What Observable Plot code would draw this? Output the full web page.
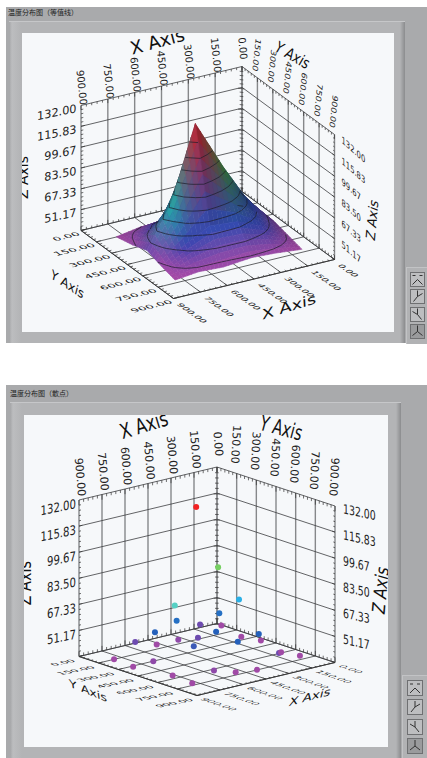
<!DOCTYPE html>
<html><head><meta charset="utf-8">
<script src="https://cdn.jsdelivr.net/npm/d3@7"></script>
<script src="https://cdn.jsdelivr.net/npm/@observablehq/plot@0.6"></script>
<style>
html,body{margin:0;padding:0;background:#fff}
#page{position:relative;width:427px;height:758px;overflow:hidden;background:#fff}
.box{position:absolute}
.grey{background:#a9aaac}
.raised{background:linear-gradient(90deg,#a5a6a8 0,#bcbdbf 3px,#b3b4b6 12px,#b3b4b6 calc(100% - 5px),#8b8c8e 100%);border-top:1px solid #c6c7c9}
.tools{background:#b1b2b4;border-top:1px solid #c2c3c5;border-left:1px solid #c2c3c5}
.plotbox{background:#f6f8fa;overflow:hidden}
.plotbox svg{display:block;background:transparent;overflow:hidden}
.title{position:absolute;font:7px "Noto Sans CJK SC","Noto Sans",sans-serif;color:#222;white-space:nowrap;line-height:9px}
.btn{position:absolute;box-sizing:border-box;border:1px solid #6f7072;background:#bdbec0}
.btn.on{background:#9a9b9d}
.btn svg{position:absolute;left:0;top:0}
</style></head><body><div id="page"></div>
<script>
// ---------- chart values ----------
const xTicks = [0,150,300,450,600,750,900];
const yTicks = [0,150,300,450,600,750,900];
const zTicks = [35,51.17,67.33,83.5,99.67,115.83,132];
const xyLabels = ["0.00","150.00","300.00","450.00","600.00","750.00","900.00"];
const zLabels = ["51.17","67.33","83.50","99.67","115.83","132.00"];

const surfaceX = [80,225,360,517,655,788];
const surfaceY = [148,306,446,585,720];
const surfaceZ = [
  [36,38,39,38,38,35],
  [39,66,62,56,50,38],
  [41,62,92,131,73,42],
  [38,50,58,60,50,38],
  [35,37,38,36,37,35]
];

const dotX = [517,257,142,655,226,471,278,98,650,412,277,152,438,725,461,120,445,560,626,307,178,798,813,802,763,777,679,487,379,56];
const dotY = [446,309,334,444,282,243,196,148,287,475,643,363,367,224,244,475,679,195,555,832,697,148,311,452,554,720,771,712,748,698];
const dotZ = [131,84,62,73,54,54,46,40,52,52,52,40,46,46,42,40,52,40,50,46,40,35,35,42,35,35,42,35,35,35];

const colorZ = [35,40,46,52,62,73,84,131];
const colorV = ["#a04aa6","#a04aa6","#6d4bb0","#2460bb","#2ab0e6","#55d0c4","#76cf62","#f22222"];
const surfaceColorZ = [35,38,44,52,62,73,92,131];
const surfaceColorV = ["#a84aa8","#a04aa8","#5f40b0","#2f45b0","#2c4fb4","#20b0a8","#3f8f45","#c8202c"];
const contourLevels = [39,47,55,63,71,80,89,98,107,118];

const zColor = d3.scaleLinear().domain(colorZ).range(colorV).interpolate(d3.interpolateRgb);
const surfaceColor = d3.scaleLinear().domain(surfaceColorZ).range(surfaceColorV).interpolate(d3.interpolateRgb);
const zMin = 35, zSpan = 97, xySpan = 900;

function projector({B,L,R,H}){
  return (x,y,z)=>{
    const a=x/xySpan,b=y/xySpan,w=(z-zMin)/zSpan;
    return [B[0]+a*(L[0]-B[0])+b*(R[0]-B[0]), B[1]+a*(L[1]-B[1])+b*(R[1]-B[1])-w*H];
  };
}
function warp(m){
  return (index,scales,values,dims,ctx,next)=>{
    const g=next(index,scales,values,dims,ctx);
    if(m) d3.select(g).selectAll("text").attr("transform",function(){return (this.getAttribute("transform")||"")+` matrix(${m.join(",")},0,0)`;});
    return g;
  };
}
function segs(P,list,opt){
  return Plot.link(list,{x1:d=>P(...d[0])[0],y1:d=>P(...d[0])[1],x2:d=>P(...d[1])[0],y2:d=>P(...d[1])[1],...opt});
}
function surfaceMarks(P){
  const n=6, polys=[], lines=[];
  const nx=surfaceX.length, ny=surfaceY.length;
  const cells=[];
  for(let j=0;j<ny-1;j++)for(let i=0;i<nx-1;i++)cells.push([i,j]);
  cells.sort((p,q)=>(p[0]+p[1])-(q[0]+q[1]));
  const rgb=v=>d3.rgb(surfaceColor(v));
  let id=0;
  for(const [i,j] of cells){
    const z00=surfaceZ[j][i],z10=surfaceZ[j][i+1],z01=surfaceZ[j+1][i],z11=surfaceZ[j+1][i+1];
    const c00=rgb(z00),c10=rgb(z10),c01=rgb(z01),c11=rgb(z11);
    const at=(s,t)=>{
      const x=surfaceX[i]+s*(surfaceX[i+1]-surfaceX[i]), y=surfaceY[j]+t*(surfaceY[j+1]-surfaceY[j]);
      const z=(1-s)*(1-t)*z00+s*(1-t)*z10+(1-s)*t*z01+s*t*z11;
      return [x,y,z];
    };
    const mix=(s,t,k)=>(1-s)*(1-t)*c00[k]+s*(1-t)*c10[k]+(1-s)*t*c01[k]+s*t*c11[k];
    for(let u=0;u<n;u++)for(let v=0;v<n;v++){
      const s0=u/n,s1=(u+1)/n,t0=v/n,t1=(v+1)/n,sm=(s0+s1)/2,tm=(t0+t1)/2;
      const q=[at(s0,t0),at(s1,t0),at(s1,t1),at(s0,t1)];
      const dzx=(q[1][2]+q[2][2]-q[0][2]-q[3][2])/2/zSpan*0.72/((q[1][0]-q[0][0])/xySpan);
      const dzy=(q[2][2]+q[3][2]-q[0][2]-q[1][2])/2/zSpan*0.72/((q[3][1]-q[0][1])/xySpan);
      const len=Math.hypot(dzx,dzy,1);
      const lam=Math.abs((-dzx*0.55-dzy*0.55+0.63)/len);
      const shade=0.62+0.38*Math.min(1,lam*1.2);
      const col=`rgb(${mix(sm,tm,"r")*shade|0},${mix(sm,tm,"g")*shade|0},${mix(sm,tm,"b")*shade|0})`;
      id++;
      for(const p of q) polys.push({id,col,p});
    }
    const m=3;
    for(let u=0;u<m;u++)for(let v=0;v<m;v++){
      const q=[at(u/m,v/m),at((u+1)/m,v/m),at((u+1)/m,(v+1)/m),at(u/m,(v+1)/m)];
      const sc=q.map(p=>P(...p));
      let area=0;for(let k=0;k<4;k++){const A=sc[k],C=sc[(k+1)%4];area+=A[0]*C[1]-C[0]*A[1];}
      if(area>-4) continue;
      for(const lev of contourLevels){
        const pts=[];
        for(let k=0;k<4;k++){
          const A=q[k],C=q[(k+1)%4];
          if((A[2]-lev)*(C[2]-lev)<0){
            const r=(lev-A[2])/(C[2]-A[2]);
            pts.push([A[0]+r*(C[0]-A[0]),A[1]+r*(C[1]-A[1]),lev]);
          }
        }
        if(pts.length>=2) lines.push([pts[0],pts[1]]);
        if(pts.length===4) lines.push([pts[2],pts[3]]);
      }
    }
  }
  return [
    Plot.line(polys,{x:d=>P(...d.p)[0],y:d=>P(...d.p)[1],z:"id",fill:"col",stroke:"col",strokeWidth:0.6,curve:"linear-closed"}),
    segs(P,lines,{stroke:"#1c1c28",strokeWidth:0.7})
  ];
}
function chart(cfg){
  const P=projector(cfg);
  const top=132,fl=35,maxv=900;
  const gridV=[],gridD=[];
  for(const x of xTicks){gridV.push([[x,0,fl],[x,0,top]]);gridD.push([[x,0,fl],[x,maxv,fl]]);}
  for(const y of yTicks){gridV.push([[0,y,fl],[0,y,top]]);gridD.push([[0,y,fl],[maxv,y,fl]]);}
  for(const z of zTicks){gridD.push([[maxv,0,z],[0,0,z]]);gridD.push([[0,0,z],[0,maxv,z]]);}
  const ticks=[];
  const minor=d3.range(0,901,30);
  for(const v of minor){
    const maj=v%150===0, dz=maj?3.2:1.8, dv=maj?26:15;
    ticks.push([[v,0,top],[v,0,top-dz]],[[0,v,top],[0,v,top-dz]]);
    ticks.push([[v,0,fl],[v,0,fl+dz]],[[0,v,fl],[0,v,fl+dz]]);
    ticks.push([[maxv,v,fl],[maxv-dv,v,fl]],[[v,maxv,fl],[v,maxv-dv,fl]]);
  }
  for(let i=0;i<30;i++){
    const z=fl+i*(top-fl)/30, maj=i%5===0, dv=maj?22:13;
    ticks.push([[maxv,0,z],[maxv-dv,0,z]],[[0,maxv,z],[0,maxv-dv,z]],[[dv,0,z],[0,dv,z]]);
  }
  const edges=[[[maxv,0,fl],[maxv,maxv,fl]],[[maxv,maxv,fl],[0,maxv,fl]]];
  const T=cfg.text;
  const txt=(data,at,label,o)=>Plot.text(data,{
    x:d=>P(...at(d))[0],y:d=>P(...at(d))[1],text:label,fill:"#222",
    fontSize:o.fs,dx:o.dx,dy:o.dy,textAnchor:o.anchor||"middle",rotate:o.rotate||0,
    render:warp(o.m)}
  );
  const xIdx=d3.range(7), yTopIdx=d3.range(1,7), zIdx=d3.range(6);
  const title=(s,at,o)=>Plot.text([s],{x:()=>P(...at)[0],y:()=>P(...at)[1],text:d=>d,fill:"#111",fontSize:o.fs,dx:o.dx,dy:o.dy,rotate:o.rotate||0,render:warp(o.m)});
  const marks=[
    segs(P,gridV,{stroke:"#86888a",strokeWidth:cfg.gw}),
    segs(P,gridD,{stroke:"#3c3d40",strokeWidth:0.8}),
    segs(P,edges,{stroke:"#333",strokeWidth:0.9}),
    segs(P,ticks,{stroke:"#333",strokeWidth:0.7})
  ];
  if(cfg.surface) marks.push(...surfaceMarks(P));
  if(cfg.dots) marks.push(Plot.dot(dotX.map((x,i)=>({x,y:dotY[i],z:dotZ[i]})),{
    x:d=>P(d.x,d.y,d.z)[0],y:d=>P(d.x,d.y,d.z)[1],r:3,fill:d=>zColor(d.z),stroke:"none"}));
  marks.push(
    txt(xIdx,i=>[xTicks[i],0,top],i=>xyLabels[i],T.xTop),
    txt(yTopIdx,i=>[0,yTicks[i],top],i=>xyLabels[i],T.yTop),
    txt(zIdx,i=>[maxv,0,zTicks[i+1]],i=>zLabels[i],T.zLeft),
    txt(zIdx,i=>[0,maxv,zTicks[i+1]],i=>zLabels[i],T.zRight),
    txt(xIdx,i=>[maxv,yTicks[i],fl],i=>xyLabels[i],T.yBot),
    txt(xIdx,i=>[xTicks[i],maxv,fl],i=>xyLabels[i],T.xBot),
    title("X Axis",[450,0,top],T.tXTop),
    title("Y Axis",[0,450,top],T.tYTop),
    title("Z Axis",[maxv,0,83.5],T.tZLeft),
    title("Z Axis",[0,maxv,83.5],T.tZRight),
    title("Y Axis",[maxv,450,fl],T.tYBot),
    title("X Axis",[450,maxv,fl],T.tXBot)
  );
  const [x0,y0,x1,y1]=cfg.frame;
  return Plot.plot({
    width:x1-x0,height:y1-y0,margin:0,
    x:{domain:[x0,x1],axis:null},y:{domain:[y1,y0],axis:null},
    style:{fontFamily:"'DejaVu Sans',sans-serif",background:"transparent"},
    marks
  });
}
const chart1={
  B:[241.5,191],L:[80.5,230],R:[334,259],H:125,gw:1.4,surface:true,frame:[22,33,394,332],
  text:{
    xTop:{fs:10,dx:0.5,dy:-18,rotate:84},
    yTop:{fs:9.5,dx:-1,dy:-23,rotate:96,m:[0.98,0,-0.22,0.8]},
    zLeft:{fs:11.5,anchor:"end",dx:-4.5,dy:3,m:[0.98,-0.2,0,1]},
    zRight:{fs:10,anchor:"start",dx:7,dy:5,m:[0.68,0.6,0,0.95]},
    yBot:{fs:10,anchor:"end",dx:-2,dy:3,m:[1.14,-0.28,0.6,0.46]},
    xBot:{fs:10,anchor:"start",dx:5,dy:5,m:[0.76,0.55,-0.75,0.2]},
    tXTop:{fs:18,dx:-4,dy:-44,rotate:-15},
    tYTop:{fs:14,dx:4,dy:-45,rotate:30,m:[0.9,0,0,1.1]},
    tZLeft:{fs:14,dx:-57.5,dy:9.5,rotate:-90},
    tZRight:{fs:13,dx:38,dy:23,rotate:-85,m:[1,0,-0.3,1]},
    tYBot:{fs:13,dx:-60,dy:20,rotate:33,m:[1,0,0.3,0.9]},
    tXBot:{fs:16,dx:35,dy:28,rotate:-17,m:[1.15,0,-0.2,0.85]}
  }
};
const chart2={
  B:[216,623],L:[78,656],R:[334,662],H:156.5,gw:1.4,dots:true,frame:[23.5,415,388,747],
  text:{
    xTop:{fs:11,dx:1,dy:-23,rotate:85},
    yTop:{fs:11,dx:-1,dy:-29,rotate:93},
    zLeft:{fs:13,anchor:"end",dx:-3,dy:4,m:[0.78,-0.16,0,1]},
    zRight:{fs:13,anchor:"start",dx:8,dy:3,m:[0.72,0.16,0,1]},
    yBot:{fs:10,anchor:"end",dx:-5,dy:4,m:[1.0,-0.2,0.75,0.3]},
    xBot:{fs:10,anchor:"start",dx:5,dy:3,m:[0.94,0.33,-0.78,0.22]},
    tXTop:{fs:20,dx:-4,dy:-58,rotate:-17,m:[0.8,0,0,1.05]},
    tYTop:{fs:20,dx:5,dy:-58,rotate:15,m:[0.72,0,0,1.05]},
    tZLeft:{fs:18,dx:-54,dy:5,rotate:-90,m:[0.8,0,0,1]},
    tZRight:{fs:18,dx:46,dy:6,rotate:-85,m:[0.85,0,-0.2,1]},
    tYBot:{fs:13,dx:-50,dy:15,rotate:22,m:[1.05,0,0.4,0.72]},
    tXBot:{fs:14,dx:44,dy:18,rotate:-15,m:[1,0,-0.4,0.72]}
  }
};
// ---------- page chrome ----------
const page=document.getElementById("page");
function box(cls,l,t,w,h){const d=document.createElement("div");d.className="box "+cls;Object.assign(d.style,{left:l+"px",top:t+"px",width:w+"px",height:h+"px"});page.appendChild(d);return d;}
function label(s,l,t){const d=document.createElement("div");d.className="title";d.textContent=s;d.style.left=l+"px";d.style.top=t+"px";page.appendChild(d);}
function tool(l,t,s,on,kind){
  const d=document.createElement("div");d.className="btn"+(on?" on":"");Object.assign(d.style,{left:l+"px",top:t+"px",width:s+"px",height:s+"px"});
  const c=s/2-1;
  const paths={
    a:`M${c} ${c}L${c-5} ${c+5}M${c} ${c}L${c+5} ${c+5}M${c-5} ${c-4}h3M${c+2} ${c-4}h3`,
    b:`M${c} ${c}L${c-4} ${c+5}M${c} ${c}V${c-6}M${c} ${c}L${c+5} ${c-3}`,
    c:`M${c} ${c}L${c+4} ${c+5}M${c} ${c}V${c-6}M${c} ${c}L${c-5} ${c-3}`,
    d:`M${c} ${c}L${c-5} ${c+4}M${c} ${c}L${c+5} ${c+4}M${c} ${c}V${c-6}`
  };
  d.innerHTML=`<svg width="${s-2}" height="${s-2}"><path d="${paths[kind]}" stroke="#333" stroke-width="1" fill="none"/></svg>`;
  page.appendChild(d);
}
// panel 1
box("grey",6,7,421,336);
box("raised",9,21,396,321);
box("tools",406,267,21,76);
label("温度分布图（等值线）",8,8);
["a","b","c","d"].forEach((k,i)=>tool(410,272+i*17.4,15,i===3,k));
const p1=box("plotbox",22,33,372,299);p1.appendChild(chart(chart1));
// panel 2
box("grey",6,385,421,373);
box("raised",10,402,391,355);
box("tools",402,675,25,83);
label("温度分布图（散点）",10,389);
["a","b","c","d"].forEach((k,i)=>tool(407,680+i*19.3,16,i===3,k));
const p2=box("plotbox",23.5,415,364.5,332);p2.appendChild(chart(chart2));
</script></body></html>
